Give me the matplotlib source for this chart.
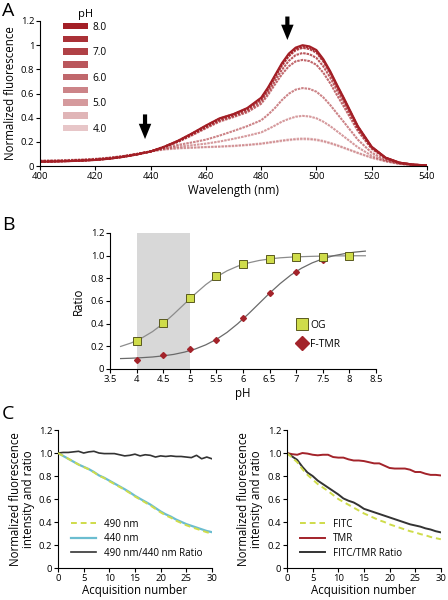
import matplotlib
matplotlib.use("Agg")
import matplotlib.pyplot as plt
from matplotlib.patches import Patch
from matplotlib.lines import Line2D

plt.rcParams["font.family"] = ["Open Sans", "DejaVu Sans"]

# ---------------- datos panel A (espectros) ----------------
longitudes = [400, 405, 410, 415, 420, 425, 430, 435, 440, 445, 450, 455, 460, 465, 470, 475,
              480, 482.5, 485, 487.5, 490, 492.5, 495, 497.5, 500, 502.5, 505, 507.5, 510,
              515, 520, 525, 530, 535, 540]

esp_ph80 = [0.035, 0.037, 0.040, 0.044, 0.050, 0.060, 0.075, 0.095, 0.120, 0.160, 0.210, 0.270, 0.335, 0.395, 0.430, 0.480,
            0.565, 0.650, 0.750, 0.850, 0.930, 0.980, 1.000, 0.990, 0.960, 0.885, 0.785, 0.670, 0.560,
            0.330, 0.160, 0.070, 0.028, 0.012, 0.005]
esp_ph75 = [0.036, 0.038, 0.041, 0.045, 0.051, 0.061, 0.076, 0.096, 0.120, 0.160, 0.208, 0.268, 0.332, 0.392, 0.428, 0.476,
            0.560, 0.643, 0.742, 0.840, 0.920, 0.970, 0.990, 0.980, 0.950, 0.876, 0.777, 0.663, 0.554,
            0.326, 0.158, 0.069, 0.028, 0.012, 0.005]
esp_ph70 = [0.036, 0.038, 0.041, 0.045, 0.051, 0.061, 0.076, 0.096, 0.120, 0.159, 0.206, 0.265, 0.328, 0.388, 0.424, 0.471,
            0.553, 0.635, 0.733, 0.830, 0.908, 0.958, 0.978, 0.968, 0.938, 0.865, 0.767, 0.655, 0.547,
            0.322, 0.156, 0.068, 0.027, 0.011, 0.005]
esp_ph65 = [0.037, 0.039, 0.042, 0.046, 0.052, 0.062, 0.077, 0.097, 0.120, 0.158, 0.203, 0.260, 0.320, 0.378, 0.415, 0.458,
            0.535, 0.612, 0.705, 0.795, 0.870, 0.918, 0.935, 0.925, 0.895, 0.825, 0.732, 0.625, 0.522,
            0.308, 0.150, 0.066, 0.027, 0.011, 0.005]
esp_ph60 = [0.038, 0.040, 0.043, 0.047, 0.053, 0.063, 0.078, 0.098, 0.121, 0.157, 0.200, 0.254, 0.312, 0.368, 0.405, 0.445,
            0.515, 0.588, 0.675, 0.758, 0.825, 0.866, 0.878, 0.868, 0.838, 0.772, 0.685, 0.585, 0.489,
            0.290, 0.142, 0.063, 0.026, 0.011, 0.005]
esp_ph55 = [0.040, 0.042, 0.045, 0.049, 0.055, 0.065, 0.080, 0.099, 0.121, 0.148, 0.175, 0.195, 0.218, 0.252, 0.290, 0.330,
            0.378, 0.425, 0.480, 0.545, 0.598, 0.632, 0.645, 0.638, 0.615, 0.568, 0.505, 0.433, 0.362,
            0.218, 0.110, 0.050, 0.021, 0.009, 0.004]
esp_ph50 = [0.042, 0.044, 0.047, 0.051, 0.057, 0.067, 0.081, 0.100, 0.121, 0.143, 0.160, 0.172, 0.185, 0.203, 0.225, 0.250,
            0.278, 0.305, 0.335, 0.367, 0.390, 0.408, 0.415, 0.410, 0.395, 0.367, 0.330, 0.287, 0.243,
            0.155, 0.085, 0.042, 0.019, 0.008, 0.004]
esp_ph45 = [0.044, 0.046, 0.049, 0.053, 0.059, 0.069, 0.082, 0.101, 0.121, 0.138, 0.148, 0.153, 0.158, 0.162, 0.168, 0.176,
            0.187, 0.195, 0.203, 0.212, 0.219, 0.225, 0.228, 0.226, 0.220, 0.208, 0.192, 0.173, 0.152,
            0.110, 0.070, 0.040, 0.018, 0.008, 0.003]
esp_ph40 = [0.045, 0.047, 0.050, 0.054, 0.060, 0.069, 0.082, 0.100, 0.120, 0.136, 0.145, 0.150, 0.155, 0.159, 0.164, 0.172,
            0.182, 0.190, 0.198, 0.206, 0.213, 0.218, 0.221, 0.219, 0.213, 0.202, 0.186, 0.168, 0.148,
            0.106, 0.067, 0.038, 0.017, 0.007, 0.003]

espectros = [esp_ph80, esp_ph75, esp_ph70, esp_ph65, esp_ph60, esp_ph55, esp_ph50, esp_ph45, esp_ph40]
etiquetas_ph = ["8.0", "", "7.0", "", "6.0", "", "5.0", "", "4.0"]

# ---------------- datos panel B ----------------
ph_puntos = [4.0, 4.5, 5.0, 5.5, 6.0, 6.5, 7.0, 7.5, 8.0]
ratio_og = [0.25, 0.41, 0.63, 0.82, 0.925, 0.97, 0.99, 0.99, 1.0]
ratio_ftmr = [0.075, 0.12, 0.18, 0.26, 0.45, 0.67, 0.86, 0.965, 1.0]

ph_ajuste = [3.7, 3.9, 4.1, 4.3, 4.5, 4.7, 4.9, 5.1, 5.3, 5.5, 5.7, 5.9,
             6.1, 6.3, 6.5, 6.7, 6.9, 7.1, 7.3, 7.5, 7.7, 7.9, 8.1, 8.3]
ajuste_og = [0.199, 0.230, 0.274, 0.330, 0.401, 0.485, 0.574, 0.662, 0.744, 0.812, 0.866, 0.907,
             0.936, 0.957, 0.971, 0.981, 0.987, 0.991, 0.994, 0.996, 0.998, 0.998, 0.999, 0.999]
ajuste_ftmr = [0.092, 0.095, 0.100, 0.106, 0.116, 0.129, 0.149, 0.176, 0.213, 0.261, 0.323, 0.399,
               0.485, 0.577, 0.669, 0.754, 0.829, 0.889, 0.936, 0.972, 0.999, 1.017, 1.031, 1.040]

# ---------------- datos panel C ----------------
adquisicion = list(range(31))
c1_490 = [1.0, 0.975, 0.95, 0.925, 0.9, 0.878, 0.858, 0.832, 0.802, 0.782, 0.755, 0.73, 0.705, 0.68, 0.652,
          0.622, 0.596, 0.57, 0.544, 0.514, 0.484, 0.458, 0.437, 0.412, 0.392, 0.372, 0.356, 0.341, 0.326, 0.311, 0.300]
c1_440 = [1.0, 0.975, 0.95, 0.925, 0.9, 0.88, 0.86, 0.835, 0.805, 0.785, 0.76, 0.735, 0.71, 0.685, 0.658,
          0.628, 0.602, 0.577, 0.552, 0.522, 0.492, 0.467, 0.447, 0.422, 0.402, 0.382, 0.367, 0.352, 0.337, 0.322, 0.312]
c1_ratio = [1.0, 1.005, 1.005, 1.01, 1.015, 1.0, 1.01, 1.015, 1.0, 0.995, 0.995, 0.995, 0.985, 0.975, 0.98,
            0.99, 0.975, 0.985, 0.98, 0.965, 0.975, 0.97, 0.975, 0.97, 0.97, 0.965, 0.96, 0.98, 0.95, 0.965, 0.95]

c2_fitc = [1.0, 0.96, 0.92, 0.86, 0.81, 0.77, 0.73, 0.70, 0.67, 0.635, 0.60, 0.575, 0.55, 0.525, 0.50,
           0.475, 0.455, 0.435, 0.415, 0.40, 0.38, 0.365, 0.35, 0.335, 0.32, 0.31, 0.295, 0.285, 0.27, 0.26, 0.25]
c2_tmr = [1.0, 0.99, 0.985, 1.0, 0.995, 0.985, 0.98, 0.985, 0.985, 0.965, 0.96, 0.96, 0.945, 0.935, 0.935,
          0.93, 0.92, 0.91, 0.91, 0.89, 0.87, 0.865, 0.865, 0.865, 0.855, 0.835, 0.835, 0.82, 0.81, 0.81, 0.805]
c2_ratio = [1.0, 0.97, 0.94, 0.88, 0.83, 0.80, 0.76, 0.73, 0.70, 0.67, 0.64, 0.605, 0.585, 0.57, 0.545,
            0.515, 0.50, 0.485, 0.47, 0.455, 0.44, 0.425, 0.41, 0.395, 0.38, 0.37, 0.36, 0.345, 0.335, 0.32, 0.31]

ROJO = (0.64, 0.12, 0.15)
AMARILLO = "#cfdc4a"
CIAN = "#6bbdd0"
GRIS_OSCURO = "#333333"
ROJO_TMR = "#a3232a"

TAM_TICK = 6.8
TAM_ETIQ = 8.3


def estilo_ejes(ax):
    for lado in ("top", "right"):
        ax.spines[lado].set_visible(False)
    for lado in ("left", "bottom"):
        ax.spines[lado].set_linewidth(0.8)
    ax.tick_params(direction="out", length=3, width=0.8, labelsize=TAM_TICK, pad=1.2)


fig = plt.figure(figsize=(4.48, 6.0), dpi=100)

# ---------------- panel A ----------------
ax_a = fig.add_axes([0.0893, 0.7233, 0.8637, 0.2417])
alfas = [1.0, 0.92, 0.85, 0.75, 0.68, 0.55, 0.45, 0.33, 0.25]
for i, (valores, alfa) in enumerate(zip(espectros, alfas)):
    estilo = "-" if i == 0 else (0, (1.2, 0.45))
    ax_a.plot(longitudes, valores, color=ROJO, alpha=alfa, lw=1.5, linestyle=estilo)
ax_a.set_xlim(400, 540)
ax_a.set_ylim(0, 1.2)
ax_a.set_xticks(range(400, 541, 20))
ax_a.set_yticks([0, 0.2, 0.4, 0.6, 0.8, 1.0, 1.2])
ax_a.set_yticklabels(["0", "0.2", "0.4", "0.6", "0.8", "1", "1.2"])
ax_a.set_xlabel("Wavelength (nm)", fontsize=TAM_ETIQ, labelpad=2)
ax_a.set_ylabel("Normalized fluorescence", fontsize=TAM_ETIQ, labelpad=3)
estilo_ejes(ax_a)

manijas = [Patch(facecolor=ROJO, alpha=a, edgecolor="none") for a in alfas]
ax_a.legend(manijas, etiquetas_ph, title="pH", loc="upper left",
            bbox_to_anchor=(0.05, 1.11), frameon=False, fontsize=7.3,
            title_fontsize=8, handlelength=2.4, handleheight=0.6,
            labelspacing=0.17, handletextpad=0.5, borderaxespad=0)

flecha = dict(arrowstyle="simple,head_length=1.1,head_width=0.9,tail_width=0.3",
              color="black", mutation_scale=10, lw=0)
ax_a.annotate("", xy=(438, 0.2), xytext=(438, 0.45), arrowprops=flecha, annotation_clip=False)
ax_a.annotate("", xy=(489.5, 1.02), xytext=(489.5, 1.26), arrowprops=flecha, annotation_clip=False)

# ---------------- panel B ----------------
ax_b = fig.add_axes([0.2455, 0.385, 0.5937, 0.2267])
ax_b.axvspan(4, 5, color="#d8d8d8", lw=0, zorder=0)
ax_b.plot(ph_ajuste, ajuste_og, color="#8c8c8c", lw=0.9, zorder=1)
ax_b.plot(ph_ajuste, ajuste_ftmr, color="#6a6a6a", lw=0.9, zorder=1)
ax_b.plot(ph_puntos, ratio_ftmr, linestyle="none", marker="D", ms=3.0,
          color=ROJO_TMR, mec=ROJO_TMR, zorder=3)
ax_b.plot(ph_puntos, ratio_og, linestyle="none", marker="s", ms=5.5,
          mfc=AMARILLO, mec="#5a5a1e", mew=0.7, zorder=4)
ax_b.set_xlim(3.5, 8.5)
ax_b.set_ylim(0, 1.2)
ax_b.set_xticks([3.5, 4, 4.5, 5, 5.5, 6, 6.5, 7, 7.5, 8, 8.5])
ax_b.set_xticklabels(["3.5", "4", "4.5", "5", "5.5", "6", "6.5", "7", "7.5", "8", "8.5"])
ax_b.set_yticks([0, 0.2, 0.4, 0.6, 0.8, 1.0, 1.2])
ax_b.set_yticklabels(["0", "0.2", "0.4", "0.6", "0.8", "1.0", "1.2"])
ax_b.set_xlabel("pH", fontsize=TAM_ETIQ, labelpad=2)
ax_b.set_ylabel("Ratio", fontsize=TAM_ETIQ, labelpad=4)
estilo_ejes(ax_b)
manijas_b = [Line2D([], [], linestyle="none", marker="s", ms=8, mfc=AMARILLO, mec="#5a5a1e", mew=0.7),
             Line2D([], [], linestyle="none", marker="D", ms=7.5, color=ROJO_TMR)]
ax_b.legend(manijas_b, ["OG", "F-TMR"], loc="center left", bbox_to_anchor=(0.685, 0.25),
            frameon=False, fontsize=7.5, handlelength=1.0, handletextpad=0.3,
            labelspacing=0.75, borderaxespad=0)

# ---------------- panel C ----------------
ax_c1 = fig.add_axes([0.1295, 0.0533, 0.3435, 0.23])
ax_c1.plot(adquisicion, c1_440, color=CIAN, lw=1.6, label="440 nm", zorder=2)
ax_c1.plot(adquisicion, c1_490, color=AMARILLO, lw=1.4, linestyle=(0, (3, 2)), label="490 nm", zorder=3)
ax_c1.plot(adquisicion, c1_ratio, color=GRIS_OSCURO, lw=1.2, label="490 nm/440 nm Ratio")

ax_c2 = fig.add_axes([0.6406, 0.0533, 0.3434, 0.23])
ax_c2.plot(adquisicion, c2_tmr, color=ROJO_TMR, lw=1.4, label="TMR")
ax_c2.plot(adquisicion, c2_ratio, color=GRIS_OSCURO, lw=1.4, label="FITC/TMR Ratio")
ax_c2.plot(adquisicion, c2_fitc, color=AMARILLO, lw=1.4, linestyle=(0, (3, 2)), label="FITC")

for ax, orden in ((ax_c1, ["490 nm", "440 nm", "490 nm/440 nm Ratio"]),
                  (ax_c2, ["FITC", "TMR", "FITC/TMR Ratio"])):
    ax.set_xlim(0, 30)
    ax.set_ylim(0, 1.2)
    ax.set_xticks(range(0, 31, 5))
    ax.set_yticks([0, 0.2, 0.4, 0.6, 0.8, 1.0, 1.2])
    ax.set_yticklabels(["0", "0.2", "0.4", "0.6", "0.8", "1.0", "1.2"])
    ax.set_xlabel("Acquisition number", fontsize=TAM_ETIQ, labelpad=0.5)
    ax.set_ylabel("Normalized fluorescence\nintensity and ratio", fontsize=TAM_ETIQ,
                  labelpad=3, linespacing=1.0)
    estilo_ejes(ax)
    h, l = ax.get_legend_handles_labels()
    d = dict(zip(l, h))
    ax.legend([d[k] for k in orden], orden, loc="lower left", bbox_to_anchor=(0.06, 0.04),
              frameon=False, fontsize=7, handlelength=2.6, handletextpad=0.8,
              labelspacing=0.35, borderaxespad=0)

# letras de panel
fig.text(0.005, 0.997, "A", fontsize=14, va="top", ha="left")
fig.text(0.005, 0.64, "B", fontsize=14, va="top", ha="left")
fig.text(0.005, 0.325, "C", fontsize=14, va="top", ha="left")

fig.savefig("out.png", dpi=100)
